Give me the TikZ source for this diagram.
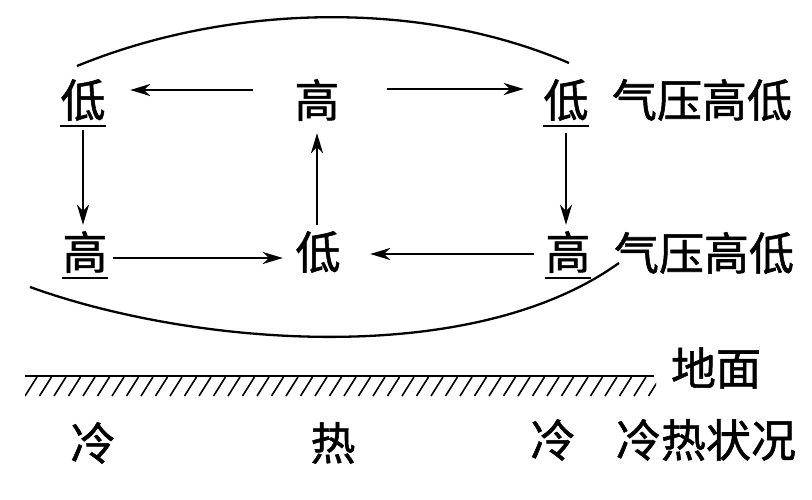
\documentclass[tikz,border=0pt]{standalone}
\usepackage{fontspec}
\newfontfamily\cjk{Noto Sans CJK SC}[FakeBold=1.2]
\usetikzlibrary{arrows.meta}
\begin{document}
\begin{tikzpicture}[x=1pt,y=-1pt,
  ch/.style={inner sep=0pt,minimum width=46pt,minimum height=52pt,font=\cjk\fontsize{45}{45}\selectfont},
  lab/.style={inner sep=0pt,font=\cjk\fontsize{45}{45}\selectfont},
  ul/.style={line width=1.8pt},
  arr/.style={line width=2pt,-{Stealth[length=20pt,width=12pt,inset=6pt]}},
  loop/.style={line width=2.3pt},
]
\useasboundingbox (0,0) rectangle (812,500);
% pressure nodes
\node[ch] (lL) at (83,100) {低};
\node[ch] (hT) at (317,100) {高};
\node[ch] (lR) at (566,100) {低};
\node[ch] (hL) at (85,252) {高};
\node[ch] (lM) at (318,252) {低};
\node[ch] (hR) at (568,252) {高};
\node[lab] (pT) at (702,100) {气压高低};
\node[lab] (pB) at (704,253) {气压高低};
\node[lab] (gd) at (716,368) {地面};
\node[lab] (c1) at (93,443) {冷};
\node[lab] (c2) at (333,443) {热};
\node[lab] (c3) at (553,440) {冷};
\node[lab] (ck) at (706,440) {冷热状况};
% underlines
\draw[ul] (lL.south west) -- (lL.south east);
\draw[ul] (lR.south west) -- (lR.south east);
\draw[ul] (hL.south west) -- (hL.south east);
\draw[ul] (hR.south west) -- (hR.south east);
% arrows
\draw[arr,shorten <=41pt,shorten >=24pt] ([yshift=10pt]hT.west) -- ([yshift=10pt]lL.east);
\draw[arr,shorten <=47pt,shorten >=19pt] ([yshift=11pt]hT.east) -- ([yshift=11pt]lR.west);
\draw[arr,shorten <=4pt,shorten >=1pt] (lL.south) -- (lL.south |- hL.north);
\draw[arr,shorten <=1pt,shorten >=7pt] ([xshift=-1pt]lM.north) -- ([xshift=-1pt]lM.north |- hT.south);
\draw[arr,shorten <=7pt,shorten >=1pt] (lR.south) -- (lR.south |- hR.north);
\draw[arr,shorten <=5pt,shorten >=12pt] ([yshift=-6pt]hL.east) -- ([yshift=-6pt]lM.west);
\draw[arr,shorten <=11pt,shorten >=29pt] ([yshift=-2pt]hR.west) -- ([yshift=-2pt]lM.east);
% circulation loops
\coordinate (t1) at (77,66);
\coordinate (t2) at (569,63);
\coordinate (b1) at (30,287);
\coordinate (b2) at (619,263);
\draw[loop] (t1) .. controls (227,4.5) and (419,-1.5) .. (t2);
\draw[loop] (b1) .. controls (190,345) and (470,370) .. (b2);
% ground
\coordinate (g1) at (25,376);
\coordinate (g2) at (654,376);
\draw[line width=2.8pt] (g1) -- (g2);
\begin{scope}
\clip (25,377) rectangle (656,397);
\foreach \i in {0,...,44} {
  \draw[line width=1.6pt] (25+\i*14.5,396) -- ++(12,-19);
}
\end{scope}
\end{tikzpicture}
\end{document}
